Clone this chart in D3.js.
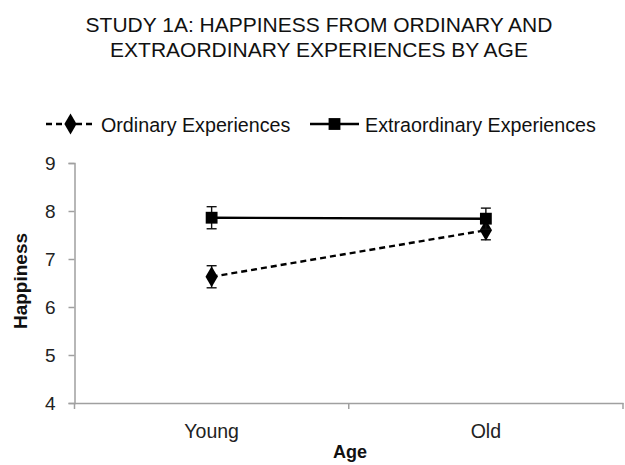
<!DOCTYPE html>
<html>
<head>
<meta charset="utf-8">
<script src="https://cdn.jsdelivr.net/npm/d3@7"></script>
<style>
  body { margin: 0; background: #fff; }
  svg { display: block; font-family: "Liberation Sans", Arial, sans-serif; }
</style>
</head>
<body>
<svg id="chart" width="625" height="465"></svg>
<script>
const categories = ["Young", "Old"];
const ordinaryValues = [6.63, 7.60];
const ordinaryErrors = [0.23, 0.20];
const extraordinaryValues = [7.86, 7.84];
const extraordinaryErrors = [0.23, 0.22];
const yTicks = [4, 5, 6, 7, 8, 9];
const titleLines = ["STUDY 1A: HAPPINESS FROM ORDINARY AND", "EXTRAORDINARY EXPERIENCES BY AGE"];
const seriesNames = ["Ordinary Experiences", "Extraordinary Experiences"];

(function () {
const svg = d3.select("#chart");
const mLeft = 74.5, mRight = 623, mTop = 163, mBottom = 403;

const x = d3.scaleBand().domain(categories).range([mLeft, mRight]);
const y = d3.scaleLinear().domain([4, 9]).range([mBottom, mTop]);
const axisColor = "#a0a0a0";
const font = "Liberation Sans, Arial, sans-serif";

// Title
svg.append("g").selectAll("text").data(titleLines).join("text")
  .attr("x", 319).attr("y", (d, i) => 32 + i * 25)
  .attr("text-anchor", "middle")
  .attr("font-size", 21)
  .attr("fill", "#111")
  .text(d => d);

// Y axis
const yAxis = svg.append("g").attr("transform", `translate(${mLeft},0)`)
  .call(d3.axisLeft(y).tickValues(yTicks).tickSize(6).tickPadding(13).tickFormat(d3.format("d")));
yAxis.select(".domain").attr("stroke", axisColor).attr("stroke-width", 1.5);
yAxis.selectAll(".tick line").attr("stroke", axisColor).attr("stroke-width", 1.5);
yAxis.selectAll(".tick text").attr("font-size", 19).attr("fill", "#222").attr("font-family", font);

// X axis
const xAxis = svg.append("g").attr("transform", `translate(0,${mBottom})`)
  .call(d3.axisBottom(x).tickSize(0).tickPadding(21));
xAxis.select(".domain").attr("stroke", axisColor).attr("stroke-width", 1.5);
xAxis.selectAll(".tick text").attr("font-size", 19.5).attr("fill", "#222").attr("font-family", font);
const boundaries = [x(categories[0]), ...categories.map(c => x(c) + x.bandwidth())];
svg.append("g").selectAll("line").data(boundaries).join("line")
  .attr("x1", d => d).attr("x2", d => d)
  .attr("y1", mBottom).attr("y2", mBottom + 6)
  .attr("stroke", axisColor).attr("stroke-width", 1.5);

// Axis titles
svg.append("text").attr("x", 350).attr("y", 458)
  .attr("text-anchor", "middle").attr("font-size", 18).attr("font-weight", "bold")
  .attr("fill", "#111").text("Age");
svg.append("text").attr("transform", "translate(27,281) rotate(-90)")
  .attr("text-anchor", "middle").attr("font-size", 19).attr("font-weight", "bold")
  .attr("fill", "#111").text("Happiness");

const cx = c => x(c) + x.bandwidth() / 2;
const series = [
  { name: seriesNames[0], values: ordinaryValues, errors: ordinaryErrors, dash: "6,4", symbol: d3.symbolDiamond, size: 130 },
  { name: seriesNames[1], values: extraordinaryValues, errors: extraordinaryErrors, dash: null, symbol: d3.symbolSquare, size: 140 }
];

series.forEach(s => {
  const pts = categories.map((c, i) => ({ c, v: s.values[i], e: s.errors[i] }));
  const eb = svg.append("g");
  pts.forEach(p => {
    eb.append("line").attr("x1", cx(p.c)).attr("x2", cx(p.c))
      .attr("y1", y(p.v - p.e)).attr("y2", y(p.v + p.e))
      .attr("stroke", "#111").attr("stroke-width", 1.4);
    [p.v - p.e, p.v + p.e].forEach(v => {
      eb.append("line").attr("x1", cx(p.c) - 5).attr("x2", cx(p.c) + 5)
        .attr("y1", y(v)).attr("y2", y(v))
        .attr("stroke", "#111").attr("stroke-width", 1.4);
    });
  });
  svg.append("path").datum(pts)
    .attr("d", d3.line().x(p => cx(p.c)).y(p => y(p.v)))
    .attr("fill", "none").attr("stroke", "#000").attr("stroke-width", 2.4)
    .attr("stroke-dasharray", s.dash);
  svg.append("g").selectAll("path").data(pts).join("path")
    .attr("transform", p => `translate(${cx(p.c)},${y(p.v)})`)
    .attr("d", d3.symbol().type(s.symbol).size(s.size))
    .attr("fill", "#000");
});

// Legend
const legend = [
  { s: series[0], x0: 46, x1: 95, tx: 101 },
  { s: series[1], x0: 310, x1: 359, tx: 365 }
];
const ly = 124;
legend.forEach(l => {
  svg.append("line").attr("x1", l.x0).attr("x2", l.x1).attr("y1", ly).attr("y2", ly)
    .attr("stroke", "#000").attr("stroke-width", 2.4)
    .attr("stroke-dasharray", l.s.dash);
  svg.append("path").attr("transform", `translate(${(l.x0 + l.x1) / 2},${ly})`)
    .attr("d", d3.symbol().type(l.s.symbol).size(l.s.size)).attr("fill", "#000");
  svg.append("text").attr("x", l.tx).attr("y", ly + 7.5)
    .attr("font-size", 19.7).attr("fill", "#111").text(l.s.name);
});
})();
</script>
</body>
</html>
